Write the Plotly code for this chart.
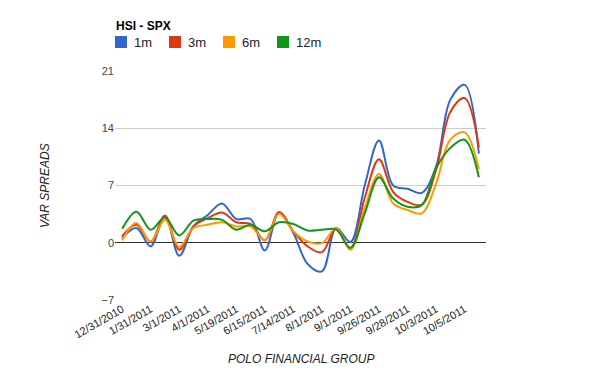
import plotly.graph_objects as go

tick_labels = ["12/31/2010", "1/31/2011", "3/1/2011", "4/1/2011", "5/19/2011",
               "6/15/2011", "7/14/2011", "8/1/2011", "9/1/2011", "9/26/2011",
               "9/28/2011", "10/3/2011", "10/5/2011"]
n_points = 26
x_idx = list(range(n_points))

s_1m = [0.6, 1.8, -0.45, 3.3, -1.6, 2.0, 3.4, 4.8, 2.9, 2.9, -0.95, 3.7, 1.2,
        -2.6, -3.5, 1.8, 0.1, 7.0, 12.5, 7.0, 6.6, 6.1, 9.3, 17.5, 19.3, 10.9]
s_3m = [0.8, 2.2, 0.15, 3.3, -0.85, 2.0, 3.0, 3.7, 2.5, 2.3, 0.3, 3.75, 1.4,
        -0.45, -1.15, 1.8, -0.8, 5.5, 10.2, 6.2, 5.0, 4.65, 8.9, 16.0, 17.7, 11.7]
s_6m = [0.3, 2.4, 0.15, 2.8, -0.5, 1.8, 2.2, 2.5, 2.0, 2.0, 0.35, 3.55, 1.4,
        0.15, -0.05, 1.8, -0.85, 4.2, 8.4, 4.8, 4.0, 3.6, 7.2, 12.6, 13.5, 9.0]
s_12m = [1.7, 3.8, 1.6, 3.1, 0.9, 2.7, 2.9, 2.8, 1.6, 2.2, 1.4, 2.5, 2.3,
         1.5, 1.6, 1.6, -0.6, 3.6, 8.0, 5.4, 4.4, 4.6, 9.1, 11.6, 12.6, 8.0]

series = [("1m", s_1m, "#3366cc"), ("3m", s_3m, "#dc3912"),
          ("6m", s_6m, "#ff9900"), ("12m", s_12m, "#109618")]

# layout geometry: target screen pixels; the page body has an 8px margin
W, H = 600, 371
OFF = 8
L, R, T, B = 115 - OFF, 486 - OFF, 71 - OFF, 300 - OFF
pw, ph = R - L, B - T


def px_x(px):
    return (px - OFF - L) / pw


def px_y(py):
    return (B - (py - OFF)) / ph


fig = go.Figure()
for name, vals, col in series:
    fig.add_trace(go.Scatter(x=x_idx, y=vals, mode="lines", name=name,
                             line=dict(color=col, width=2, shape="spline", smoothing=1.0),
                             showlegend=False))

# manual legend
shapes = []
annotations = []
legend_x = [115, 169, 223, 277]
for (name, _, col), lx in zip(series, legend_x):
    shapes.append(dict(type="rect", xref="paper", yref="paper",
                       x0=px_x(lx), x1=px_x(lx + 12), y0=px_y(48), y1=px_y(36),
                       fillcolor=col, line=dict(width=0)))
    annotations.append(dict(text=name, xref="paper", yref="paper",
                            x=px_x(lx + 17), y=px_y(42), xanchor="left", yanchor="middle",
                            showarrow=False, font=dict(size=13, color="#222222")))

annotations.append(dict(text="<b>HSI - SPX</b>", xref="paper", yref="paper",
                        x=px_x(114), y=px_y(26), xanchor="left", yanchor="middle",
                        showarrow=False, font=dict(size=12, color="#000000")))
annotations.append(dict(text="<i>VAR SPREADS</i>", xref="paper", yref="paper",
                        x=px_x(45), y=px_y(186), xanchor="center", yanchor="middle",
                        textangle=-90, showarrow=False,
                        font=dict(size=12, color="#222222")))
annotations.append(dict(text="<i>POLO FINANCIAL GROUP</i>", xref="paper", yref="paper",
                        x=px_x(301), y=px_y(359), xanchor="center", yanchor="middle",
                        showarrow=False, font=dict(size=12, color="#222222")))

fig.update_layout(
    width=W, height=H,
    margin=dict(l=L, r=W - R, t=T, b=H - B, autoexpand=False),
    paper_bgcolor="white", plot_bgcolor="white",
    font=dict(family="Liberation Sans, Arial, sans-serif", color="#444444"),
    showlegend=False,
    shapes=shapes,
    annotations=annotations,
    xaxis=dict(range=[-0.5, n_points - 0.5], tickmode="array",
               tickvals=x_idx[::2], ticktext=tick_labels, tickangle=-30,
               showgrid=False, zeroline=False, showline=False, ticks="",
               tickfont=dict(size=11, color="#222222")),
    yaxis=dict(range=[-7, 21], tickmode="linear", tick0=-7, dtick=7,
               showgrid=True, gridcolor="#cccccc", gridwidth=1,
               zeroline=True, zerolinecolor="#333333", zerolinewidth=1,
               showline=False, ticks="", tickfont=dict(size=11, color="#444444")),
)

fig.write_html("out.html")
